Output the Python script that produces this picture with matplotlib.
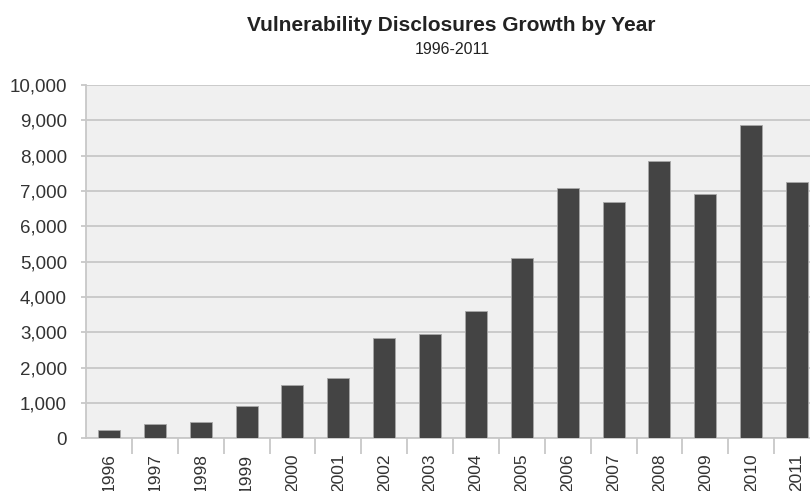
import numpy as np
import matplotlib
matplotlib.use("Agg")
import matplotlib.pyplot as plt
from matplotlib.ticker import FuncFormatter, FixedLocator

# Datos
years = ["1996", "1997", "1998", "1999", "2000", "2001", "2002", "2003",
         "2004", "2005", "2006", "2007", "2008", "2009", "2010", "2011"]
disclosures = [230, 400, 460, 920, 1510, 1720, 2830, 2960,
               3600, 5110, 7085, 6690, 7840, 6915, 8860, 7255]

plt.rcParams["font.family"] = ["Liberation Sans", "DejaVu Sans"]

W, H = 810, 491
fig = plt.figure(figsize=(W / 100, H / 100), dpi=100)

# Area del grafico en pixeles (se corta por la derecha como en el original)
left, right, top, bottom = 86, 820, 85, 438.3
ax = fig.add_axes([left / W, 1 - bottom / H, (right - left) / W, (bottom - top) / H])
ax.set_facecolor("#f0f0f0")

x = np.arange(len(years))
ax.bar(x, disclosures, width=0.48, color="#444444", edgecolor="#a8a8a8",
       linewidth=0.6, zorder=3)

ax.set_xlim(-0.5, len(years) - 0.5)
ax.set_ylim(0, 10000)

grid_color = "#c8c8c8"
ax.set_yticks(np.arange(0, 10001, 1000))
ax.yaxis.set_major_formatter(FuncFormatter(lambda v, p: f"{int(v):,}"))
ax.yaxis.grid(True, color=grid_color, linewidth=1.3, zorder=1)
ax.tick_params(axis="y", length=3.6, width=1.3, color=grid_color, pad=10,
               labelsize=13.5, labelcolor="#333333")

ax.set_xticks(x)
ax.set_xticklabels(years, rotation=90)
ax.tick_params(axis="x", which="major", length=0, pad=11,
               labelsize=12.5, labelcolor="#333333")
ax.xaxis.set_minor_locator(FixedLocator(x[1:] - 0.5))
ax.tick_params(axis="x", which="minor", length=11.5, width=1.3, color=grid_color)

for side in ["top", "right"]:
    ax.spines[side].set_visible(False)
for side in ["left", "bottom"]:
    ax.spines[side].set_color(grid_color)
    ax.spines[side].set_linewidth(1.3)

fig.text(451 / W, 1 - 31 / H, "Vulnerability Disclosures Growth by Year",
         ha="center", va="baseline", fontsize=15, fontweight="bold", color="#222222")
fig.text(452 / W, 1 - 54.3 / H, "1996-2011",
         ha="center", va="baseline", fontsize=11.5, color="#222222")

fig.savefig("out.png", dpi=100, facecolor="white")
